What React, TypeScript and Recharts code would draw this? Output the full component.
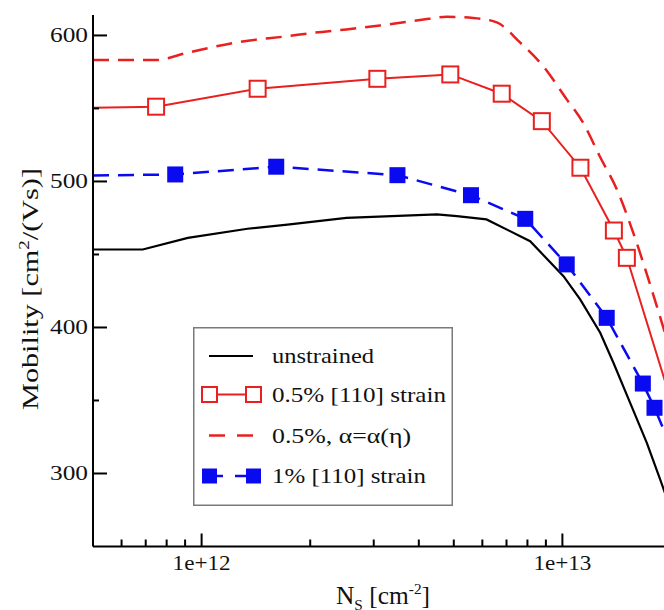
import React from "react"
import { LineChart, Line, XAxis, YAxis, Legend, Label } from "recharts"

// sheet density N_s [cm^-2] and mobility [cm^2/(Vs)]
const unstrainedN = [5e11, 6.87e11, 9.16e11, 1.34e12, 1.73e12, 2.52e12, 4.49e12, 5.1e12, 6.16e12, 7.64e12, 8.14e12, 1.007e13, 1.12e13, 1.273e13, 1.385e13, 1.541e13, 1.714e13, 1.866e13, 2e13]
const unstrainedMu = [453.4, 453.4, 461.4, 467.6, 470.5, 475.1, 477.4, 476.2, 474, 462.5, 459.1, 435.1, 419.2, 396.4, 375.8, 348.4, 321, 295.9, 275]

const halfStrainN = [5e11, 7.48e11, 1.43e12, 3.07e12, 4.89e12, 6.79e12, 8.77e12, 1.122e13, 1.389e13, 1.509e13, 2e13]
const halfStrainMu = [550.5, 551.2, 563.5, 570.3, 573.3, 560.1, 541.3, 509.4, 466.4, 447.7, 350]

const halfAlphaN = [5e11, 7.41e11, 9.16e11, 1.26e12, 1.73e12, 2.04e12, 2.52e12, 3.12e12, 4.03e12, 4.78e12, 5.66e12, 6.58e12, 7.63e12, 8.84e12, 1.028e13, 1.14e13, 1.27e13, 1.416e13, 1.571e13, 1.75e13, 1.9e13, 2e13]
const halfAlphaMu = [583.1, 583.1, 588.2, 595.4, 599.5, 601.8, 604.1, 606.8, 610.5, 612.8, 612, 608.9, 595.2, 579, 556.2, 540.4, 517.1, 494.5, 465, 429.5, 400.7, 382]

const oneStrainN = [5e11, 8.45e11, 1.61e12, 3.49e12, 5.58e12, 7.89e12, 1.028e13, 1.327e13, 1.671e13, 1.8e13, 2e13]
const oneStrainMu = [504.1, 504.8, 510.1, 504.3, 490.6, 474.4, 443.2, 406.6, 361.6, 345, 318]

const xMajorTicks = [1e12, 1e13]
const xMajorLabels = ["1e+12", "1e+13"]
const xMinorTicks = [6e11, 7e11, 8e11, 9e11, 2e12, 3e12, 4e12, 5e12, 6e12, 7e12, 8e12, 9e12]
const yMajorTicks = [300, 400, 500, 600]
const yMinorTicks = [350, 450, 550]

const legendNames = ["unstrained", "0.5% [110] strain", "0.5%, \u03b1=\u03b1(\u03b7)", "1% [110] strain"]

const toPoints = (n: number[], mu: number[]) => n.map((v, i) => ({ n: v, mu: mu[i] }))

const RED = "#e8201f"
const BLUE = "#0a0af0"
const FONT = "'Liberation Serif', 'Times New Roman', serif"
const X_DOMAIN = [5e11, 2e13]
const Y_DOMAIN = [250, 614]
const xTicks = [...xMinorTicks, ...xMajorTicks].sort((a, b) => a - b)
const yTicks = [...yMinorTicks, ...yMajorTicks].sort((a, b) => a - b)

// tick marks point into the plot on all four sides
const BottomTick = ({ x, y, payload }: any) => {
  const idx = xMajorTicks.indexOf(payload.value)
  const major = idx >= 0
  return (
    <g>
      <line x1={x} x2={x} y1={y} y2={y - (major ? 13 : 7)} stroke="#000" strokeWidth={2} />
      {major && (
        <text x={x} y={y + 23} textAnchor="middle" fontFamily={FONT} fontSize={21} fill="#111"
          textLength={58} lengthAdjust="spacingAndGlyphs">
          {xMajorLabels[idx]}
        </text>
      )}
    </g>
  )
}

const TopTick = ({ x, y, payload }: any) => {
  const major = xMajorTicks.includes(payload.value)
  return <line x1={x} x2={x} y1={y} y2={y + (major ? 13 : 7)} stroke="#000" strokeWidth={2} />
}

const LeftTick = ({ x, y, payload }: any) => {
  const major = yMajorTicks.includes(payload.value)
  return (
    <g>
      <line x1={x} x2={x + (major ? 14 : 6)} y1={y} y2={y} stroke="#000" strokeWidth={2} />
      {major && (
        <text x={x - 5} y={y + 7} textAnchor="end" fontFamily={FONT} fontSize={20} fill="#111"
          textLength={38} lengthAdjust="spacingAndGlyphs">
          {payload.value}
        </text>
      )}
    </g>
  )
}

const RightTick = ({ x, y, payload }: any) => {
  const major = yMajorTicks.includes(payload.value)
  return <line x1={x} x2={x - (major ? 14 : 6)} y1={y} y2={y} stroke="#000" strokeWidth={2} />
}

// first and last points only carry the curve to the frame, no marker there
const OpenSquare = (props: any) => {
  const { cx, cy, index, points } = props
  if (index === 0 || index === halfStrainN.length - 1) return <g key={`os-${index}`} />
  return <rect key={`os-${index}`} x={cx - 8} y={cy - 8} width={16} height={16} fill="#fff" stroke={RED} strokeWidth={2} />
}

const FilledSquare = (props: any) => {
  const { cx, cy, index } = props
  if (index === 0 || index === oneStrainN.length - 1) return <g key={`fs-${index}`} />
  return <rect key={`fs-${index}`} x={cx - 8} y={cy - 8} width={16} height={16} fill={BLUE} />
}

const YTitle = () => (
  <text x={38} y={289} transform="rotate(-90, 38, 289)" textAnchor="middle" fontFamily={FONT}
    fontSize={24} fill="#111" textLength={242} lengthAdjust="spacingAndGlyphs">
    Mobility [cm<tspan dy={-9} fontSize={15}>2</tspan><tspan dy={9}>/(Vs)]</tspan>
  </text>
)

const XTitle = () => (
  <text x={383} y={604} textAnchor="middle" fontFamily={FONT} fontSize={25} fill="#111"
    textLength={94} lengthAdjust="spacingAndGlyphs">
    N<tspan dy={6} fontSize={15}>S</tspan><tspan dy={-6}> [cm</tspan>
    <tspan dy={-10} fontSize={15}>-2</tspan><tspan dy={10}>]</tspan>
  </text>
)

const LegendBox = () => {
  const rows = [29, 67.5, 108.5, 149]
  const widths = [102, 174, 139, 154]
  return (
    <svg width={260} height={179} style={{ display: "block" }}>
      <rect x={0.75} y={0.75} width={258.5} height={177.5} fill="#fff" stroke="#7a7a7a" strokeWidth={1.5} />
      <line x1={16} x2={60} y1={rows[0]} y2={rows[0]} stroke="#000" strokeWidth={2.2} />
      <line x1={16} x2={60} y1={rows[1]} y2={rows[1]} stroke={RED} strokeWidth={2} />
      <rect x={9} y={rows[1] - 7.5} width={15} height={15} fill="#fff" stroke={RED} strokeWidth={2} />
      <rect x={53} y={rows[1] - 7.5} width={15} height={15} fill="#fff" stroke={RED} strokeWidth={2} />
      <line x1={16} x2={60} y1={rows[2]} y2={rows[2]} stroke={RED} strokeWidth={2.5} strokeDasharray="16 12" />
      <line x1={16} x2={60} y1={rows[3]} y2={rows[3]} stroke={BLUE} strokeWidth={2.5} strokeDasharray="14 12" />
      <rect x={9} y={rows[3] - 7.5} width={15} height={15} fill={BLUE} />
      <rect x={53} y={rows[3] - 7.5} width={15} height={15} fill={BLUE} />
      {legendNames.map((name, i) => (
        <text key={name} x={79} y={rows[i] + 7} fontFamily={FONT} fontSize={22} fill="#111"
          textLength={widths[i]} lengthAdjust="spacingAndGlyphs">
          {name}
        </text>
      ))}
    </svg>
  )
}

export default function App() {
  return (
    <div style={{ position: "absolute", left: 0, top: 0, width: 664, height: 610, overflow: "hidden", background: "#fff" }}>
      <LineChart width={680} height={610} margin={{ top: 15, right: 9, bottom: 23.5, left: 0 }}>
        <XAxis dataKey="n" type="number" scale="log" domain={X_DOMAIN} allowDataOverflow ticks={xTicks}
          height={40} tickSize={0} tickMargin={0} tickLine={false} tick={<BottomTick />} interval={0}
          axisLine={{ stroke: "#000", strokeWidth: 2 }}>
          <Label content={<XTitle />} />
        </XAxis>
        <XAxis xAxisId="top" orientation="top" dataKey="n" type="number" scale="log" domain={X_DOMAIN}
          allowDataOverflow ticks={xTicks} height={0} tickSize={0} tickMargin={0} tickLine={false}
          tick={<TopTick />} interval={0} axisLine={{ stroke: "#333", strokeWidth: 2 }} />
        <YAxis type="number" domain={Y_DOMAIN} allowDataOverflow ticks={yTicks} width={93} tickSize={0}
          tickMargin={0} tickLine={false} tick={<LeftTick />} interval={0}
          axisLine={{ stroke: "#000", strokeWidth: 2 }}>
          <Label content={<YTitle />} />
        </YAxis>
        <YAxis yAxisId="right" orientation="right" type="number" domain={Y_DOMAIN} allowDataOverflow
          ticks={yTicks} width={0} tickSize={0} tickMargin={0} tickLine={false} tick={<RightTick />}
          interval={0} axisLine={{ stroke: "#333", strokeWidth: 2 }} />
        <Legend layout="horizontal" verticalAlign="middle" align="center" width={260} height={179}
          wrapperStyle={{ left: 193, top: 327, width: 260, height: 179 }} content={<LegendBox />} />
        <Line data={toPoints(unstrainedN, unstrainedMu)} dataKey="mu" name={legendNames[0]} type="linear"
          stroke="#000" strokeWidth={2.2} dot={false} isAnimationActive={false} />
        <Line data={toPoints(halfAlphaN, halfAlphaMu)} dataKey="mu" name={legendNames[2]} type="monotone"
          stroke={RED} strokeWidth={2.5} strokeDasharray="16 9" dot={false} isAnimationActive={false} />
        <Line data={toPoints(oneStrainN, oneStrainMu)} dataKey="mu" name={legendNames[3]} type="linear"
          stroke={BLUE} strokeWidth={2.5} strokeDasharray="16 9" dot={<FilledSquare />} isAnimationActive={false} />
        <Line data={toPoints(halfStrainN, halfStrainMu)} dataKey="mu" name={legendNames[1]} type="linear"
          stroke={RED} strokeWidth={2} dot={<OpenSquare />} isAnimationActive={false} />
      </LineChart>
    </div>
  )
}
